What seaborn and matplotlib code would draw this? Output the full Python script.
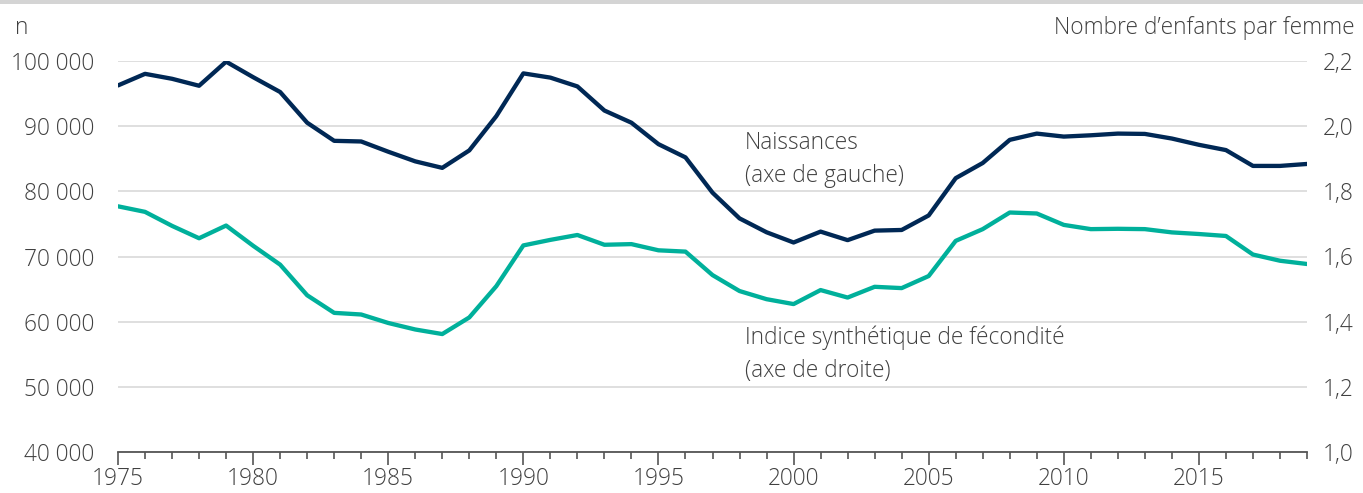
import matplotlib
matplotlib.use("Agg")
import matplotlib.pyplot as plt
import seaborn as sns
import pandas as pd
from matplotlib.ticker import MultipleLocator, FuncFormatter
from matplotlib.patches import Rectangle

years = list(range(1975, 2020))
naissances = [96250, 98030, 97270, 96200, 99900, 97520, 95240, 90530, 87750, 87650,
              86080, 84600, 83600, 86280, 91540, 98100, 97450, 96100, 92400, 90530,
              87240, 85210, 79800, 75850, 73720, 72150, 73820, 72510, 73970, 74070,
              76300, 82020, 84350, 87900, 88860, 88400, 88600, 88860, 88810, 88100,
              87140, 86330, 83900, 83900, 84200]
isf = [1.754, 1.737, 1.694, 1.656, 1.695, 1.633, 1.575, 1.481, 1.427, 1.422,
       1.396, 1.376, 1.362, 1.413, 1.509, 1.634, 1.651, 1.666, 1.636, 1.638,
       1.619, 1.615, 1.543, 1.494, 1.469, 1.454, 1.497, 1.474, 1.507, 1.503,
       1.540, 1.648, 1.684, 1.735, 1.732, 1.697, 1.684, 1.685, 1.684, 1.674,
       1.669, 1.663, 1.606, 1.587, 1.577]
left_ticks = [40000, 50000, 60000, 70000, 80000, 90000, 100000]
right_ticks = [1.0, 1.2, 1.4, 1.6, 1.8, 2.0, 2.2]
x_ticks = [1975, 1980, 1985, 1990, 1995, 2000, 2005, 2010, 2015]

df = pd.DataFrame({"annee": years, "naissances": naissances, "isf": isf})

sns.set_theme(style="white")
plt.rcParams["font.family"] = ["Open Sans", "DejaVu Sans"]
plt.rcParams["font.weight"] = "light"

TXT = "#404040"
NAVY = "#002855"
TEAL = "#00b09b"
FS = 16.3

fig = plt.figure(figsize=(13.63, 4.93), dpi=100)
ax = fig.add_axes([118/1363, 41/493, (1307-118)/1363, (452-61)/493])
ax2 = ax.twinx()

sns.lineplot(data=df, x="annee", y="naissances", ax=ax, color=NAVY, linewidth=3.1, zorder=3)
sns.lineplot(data=df, x="annee", y="isf", ax=ax2, color=TEAL, linewidth=3.1, zorder=3)

ax.set_xlim(1975, 2019)
ax.set_ylim(40000, 100000)
ax2.set_ylim(1.0, 2.2)
ax.set_yticks(left_ticks)
ax2.set_yticks(right_ticks)
ax.set_xticks(x_ticks)
ax.xaxis.set_minor_locator(MultipleLocator(1))
ax.yaxis.set_major_formatter(FuncFormatter(lambda v, p: f"{int(v):,}".replace(",", " ")))
ax2.yaxis.set_major_formatter(FuncFormatter(lambda v, p: f"{v:.1f}".replace(".", ",")))

for a in (ax, ax2):
    for s in a.spines.values():
        s.set_visible(False)
    a.set_xlabel("")
    a.set_ylabel("")
ax.spines["bottom"].set_visible(True)
ax.spines["bottom"].set_color("#555555")
ax.spines["bottom"].set_linewidth(1.3)
ax.spines["bottom"].set_zorder(5)

ax.grid(axis="y", color="#dcdcdc", linewidth=1.3)
ax.set_axisbelow(True)
ax2.grid(False)

ax.tick_params(axis="x", which="major", direction="out", length=9, width=1.2, color="#555555",
               labelsize=FS, labelcolor=TXT, pad=2, bottom=True)
ax.tick_params(axis="x", which="minor", direction="out", length=5, width=1.2, color="#555555", bottom=True)
ax.tick_params(axis="y", length=0, labelsize=FS, labelcolor=TXT, pad=17)
ax2.tick_params(axis="y", length=0, labelsize=FS, labelcolor=TXT, pad=11)
for lbl in ax.get_xticklabels() + ax.get_yticklabels() + ax2.get_yticklabels():
    lbl.set_fontweight("light")

ax.text(1998.2, 84850, "Naissances\n(axe de gauche)", fontsize=FS, color=TXT,
        fontweight="light", va="center", ha="left", linespacing=1.5)
ax.text(1998.2, 55000, "Indice synthétique de fécondité\n(axe de droite)", fontsize=FS, color=TXT,
        fontweight="light", va="center", ha="left", linespacing=1.5)

fig.text(15/1363, 1 - 28/493, "n", fontsize=FS, color=TXT, fontweight="light", va="center", ha="left")
fig.text(1355/1363, 1 - 28/493, "Nombre d\u2019enfants par femme", fontsize=FS, color=TXT,
         fontweight="light", va="center", ha="right")

fig.add_artist(Rectangle((0, 1 - 3.5/493), 1, 3.5/493, transform=fig.transFigure,
                         facecolor="#d4d4d4", edgecolor="none"))

fig.savefig("out.png", dpi=100, facecolor="white")
